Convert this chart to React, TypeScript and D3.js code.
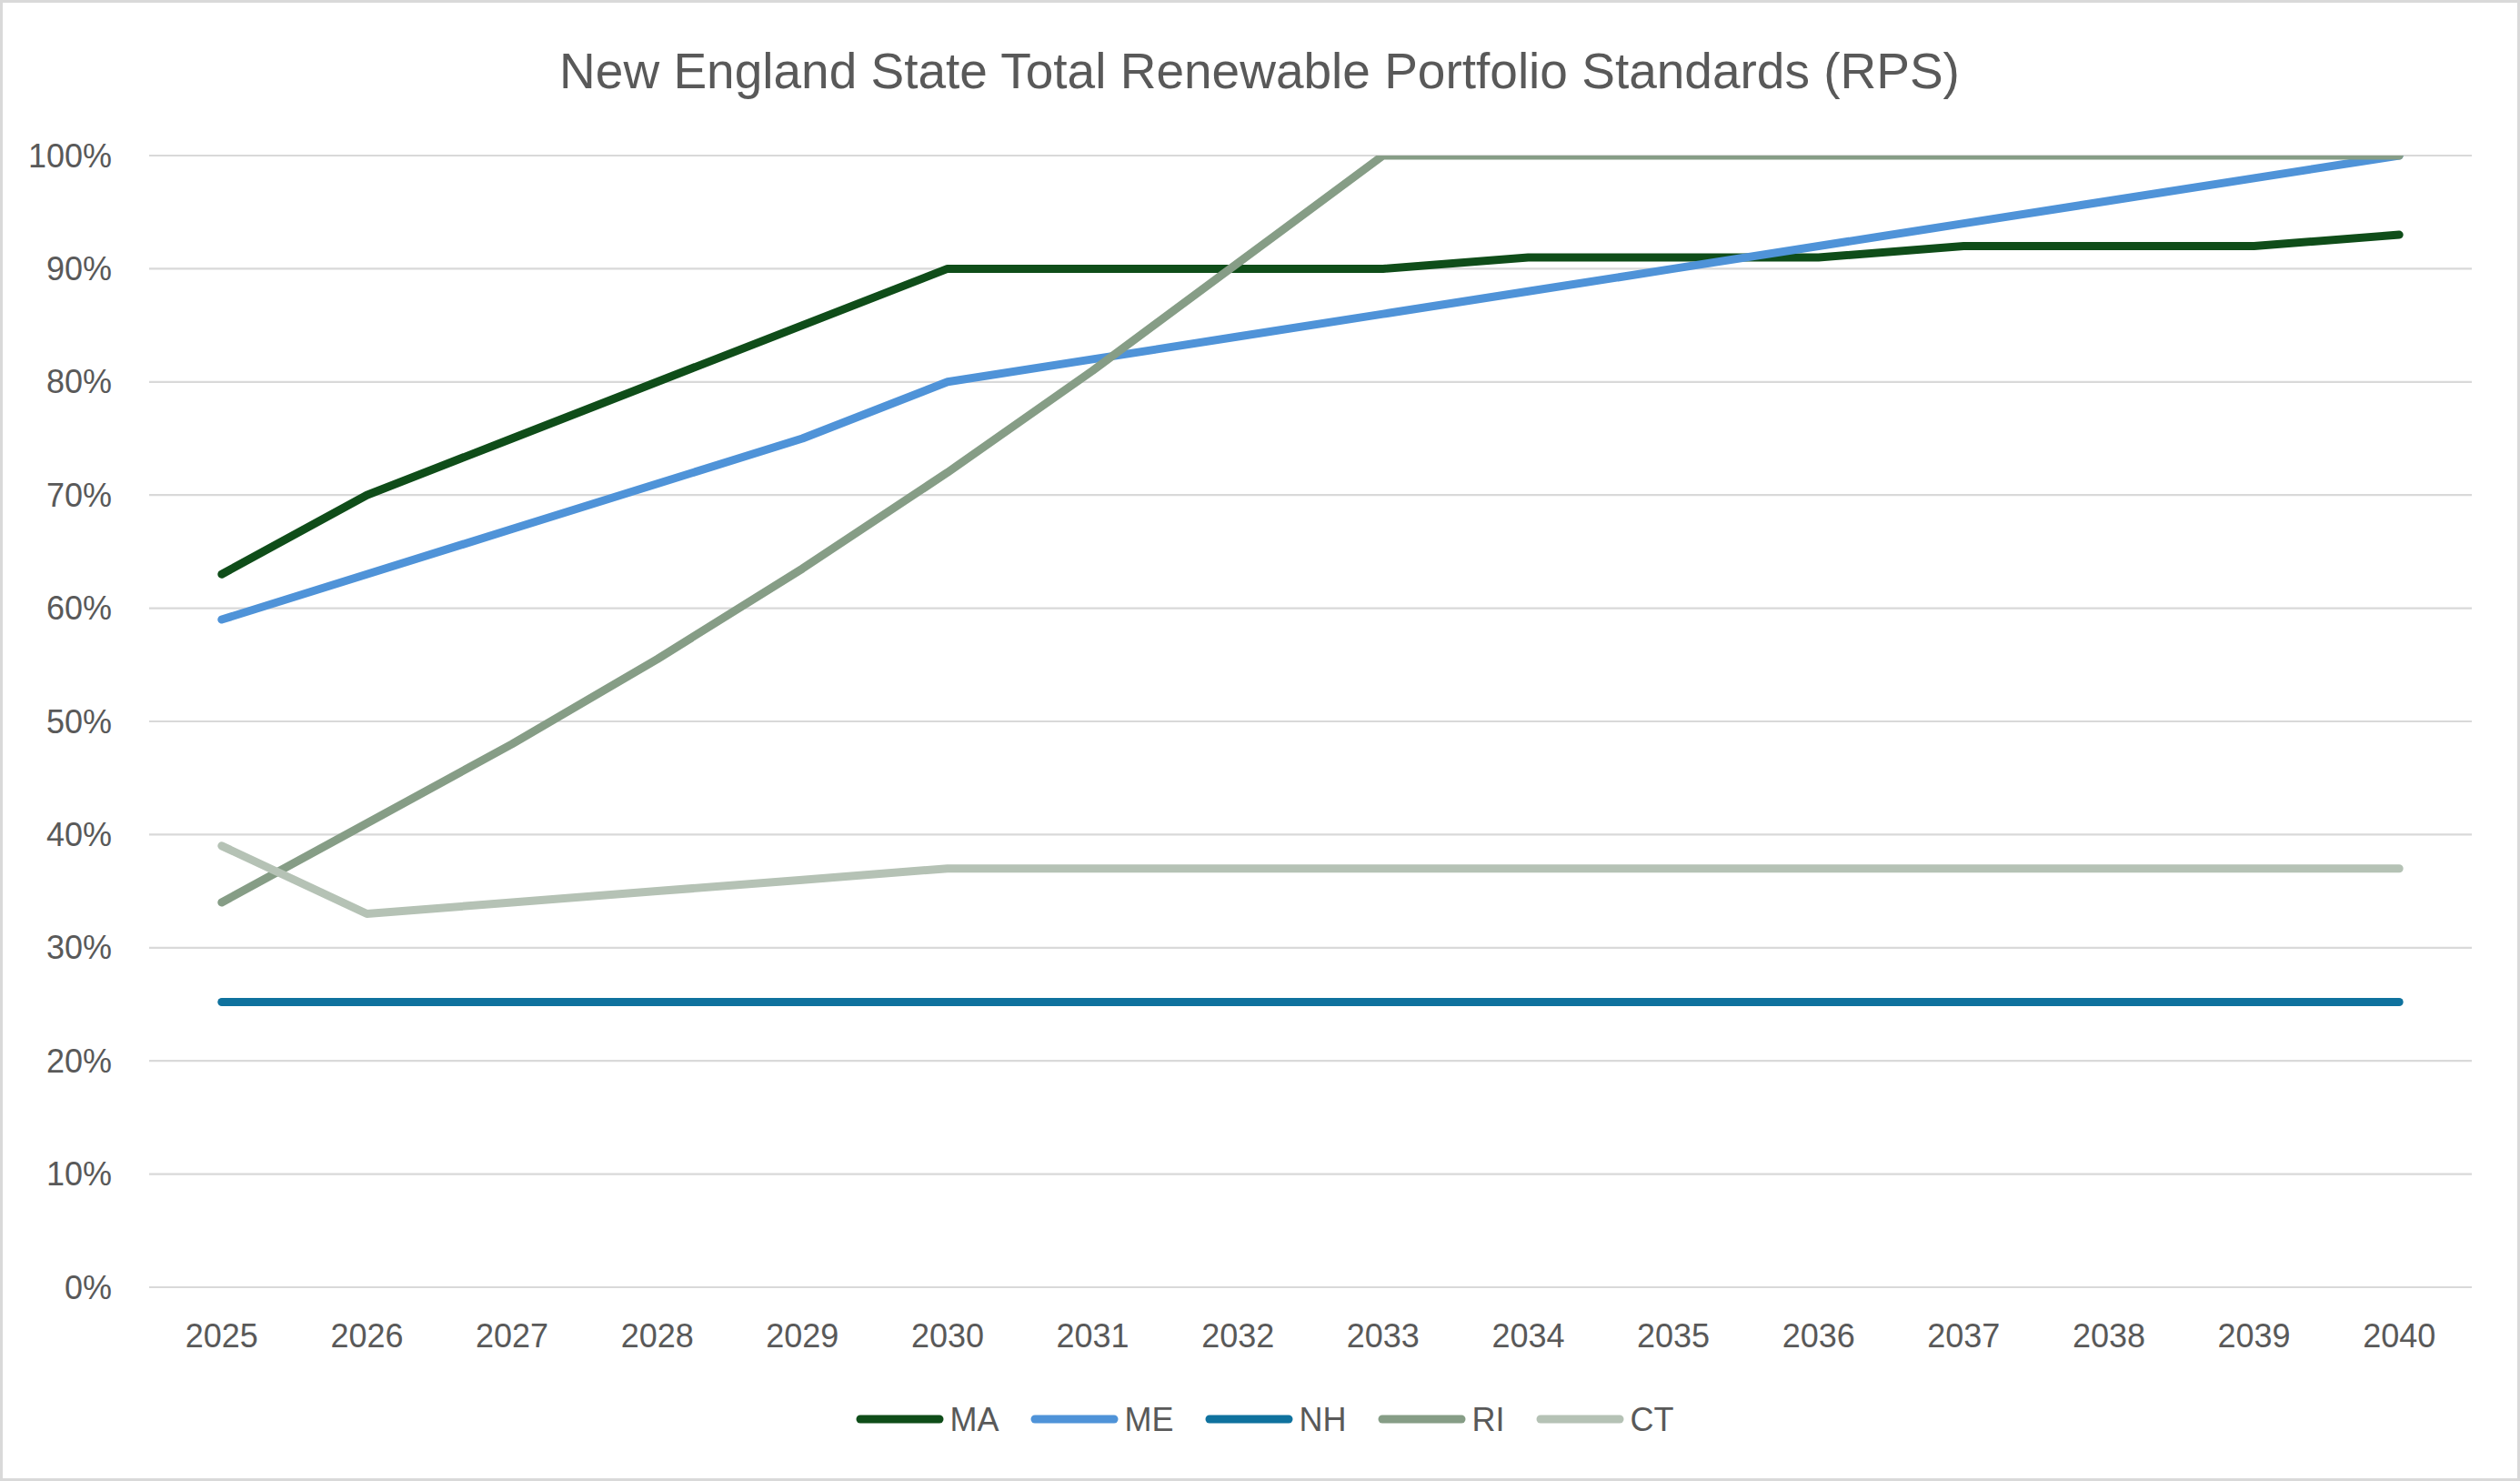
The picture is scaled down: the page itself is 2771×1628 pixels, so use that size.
import React, { useRef, useEffect } from 'react';
import * as d3 from 'd3';

const years = ['2025', '2026', '2027', '2028', '2029', '2030', '2031', '2032', '2033', '2034', '2035', '2036', '2037', '2038', '2039', '2040'];

const maValues = [63, 70, 75, 80, 85, 90, 90, 90, 90, 91, 91, 91, 92, 92, 92, 93];
const meValues = [59, 63, 67, 71, 75, 80, 82, 84, 86, 88, 90, 92, 94, 96, 98, 100];
const nhValues = [25.2, 25.2, 25.2, 25.2, 25.2, 25.2, 25.2, 25.2, 25.2, 25.2, 25.2, 25.2, 25.2, 25.2, 25.2, 25.2];
const riValues = [34, 41, 48, 55.5, 63.5, 72, 81, 90.5, 100, 100, 100, 100, 100, 100, 100, 100];
const ctValues = [39, 33, 34, 35, 36, 37, 37, 37, 37, 37, 37, 37, 37, 37, 37, 37];

const seriesNames = ['MA', 'ME', 'NH', 'RI', 'CT'];
const seriesColors = ['#0f4d19', '#4f93d8', '#0f729e', '#869d86', '#b5c2b5'];
const seriesValues = [maValues, meValues, nhValues, riValues, ctValues];

const yTicks = [0, 10, 20, 30, 40, 50, 60, 70, 80, 90, 100];

const title = 'New England State Total Renewable Portfolio Standards (RPS)';

const width = 2771;
const height = 1628;
const FONT = '"Liberation Sans", Arial, sans-serif';
const TEXT_COLOR = '#595959';

const App: React.FC = () => {
    const svgRef = useRef<SVGSVGElement | null>(null);

    useEffect(() => {
        const svg = d3.select(svgRef.current);
        svg.selectAll('*').remove();

        const plot = { left: 164, right: 2718, top: 171, bottom: 1415 };

        const x = d3.scalePoint<string>().domain(years).range([plot.left, plot.right]).padding(0.5);
        const y = d3.scaleLinear().domain([0, 100]).range([plot.bottom, plot.top]);

        svg.append('rect')
            .attr('x', 0).attr('y', 0)
            .attr('width', width).attr('height', height)
            .attr('fill', '#ffffff');

        // chart border
        svg.append('rect')
            .attr('x', 1.5).attr('y', 1.5)
            .attr('width', width - 3).attr('height', height - 3)
            .attr('fill', 'none')
            .attr('stroke', '#d9d9d9')
            .attr('stroke-width', 3);

        svg.append('text')
            .attr('x', (plot.left + plot.right) / 2 - 56)
            .attr('y', 97)
            .attr('text-anchor', 'middle')
            .style('font-family', FONT)
            .style('font-size', '55px')
            .style('fill', TEXT_COLOR)
            .text(title);

        // gridlines
        svg.append('g')
            .selectAll('line')
            .data(yTicks)
            .enter()
            .append('line')
            .attr('x1', plot.left)
            .attr('x2', plot.right)
            .attr('y1', d => y(d))
            .attr('y2', d => y(d))
            .attr('stroke', '#d9d9d9')
            .attr('stroke-width', 2.2);

        // y axis labels
        svg.append('g')
            .selectAll('text')
            .data(yTicks)
            .enter()
            .append('text')
            .attr('x', 123)
            .attr('y', d => y(d))
            .attr('dy', '0.35em')
            .attr('text-anchor', 'end')
            .style('font-family', FONT)
            .style('font-size', '36px')
            .style('fill', TEXT_COLOR)
            .text(d => `${d}%`);

        // x axis labels
        svg.append('g')
            .selectAll('text')
            .data(years)
            .enter()
            .append('text')
            .attr('x', d => x(d) as number)
            .attr('y', 1481)
            .attr('text-anchor', 'middle')
            .style('font-family', FONT)
            .style('font-size', '36px')
            .style('fill', TEXT_COLOR)
            .text(d => d);

        svg.append('clipPath')
            .attr('id', 'plot-clip')
            .append('rect')
            .attr('x', 0)
            .attr('y', plot.top)
            .attr('width', width)
            .attr('height', height - plot.top);

        const line = d3.line<number>()
            .x((_, i) => x(years[i]) as number)
            .y(d => y(d));

        const lines = svg.append('g').attr('clip-path', 'url(#plot-clip)');
        seriesValues.forEach((values, i) => {
            lines.append('path')
                .datum(values)
                .attr('d', line)
                .attr('fill', 'none')
                .attr('stroke', seriesColors[i])
                .attr('stroke-width', 9)
                .attr('stroke-linejoin', 'round')
                .attr('stroke-linecap', 'round');
        });

        // legend
        const legend = svg.append('g');
        const legendY = 1560;
        const lineLen = 87;
        let cursor = 0;
        seriesNames.forEach((name, i) => {
            const item = legend.append('g').attr('transform', `translate(${cursor},0)`);
            item.append('line')
                .attr('x1', 4.5).attr('x2', 4.5 + lineLen)
                .attr('y1', legendY).attr('y2', legendY)
                .attr('stroke', seriesColors[i])
                .attr('stroke-width', 9)
                .attr('stroke-linecap', 'round');
            const t = item.append('text')
                .attr('x', lineLen + 9 + 7)
                .attr('y', legendY)
                .attr('dy', '0.35em')
                .style('font-family', FONT)
                .style('font-size', '36px')
                .style('fill', TEXT_COLOR)
                .text(name);
            const tw = (t.node() as SVGTextElement).getComputedTextLength();
            cursor += lineLen + 9 + 7 + tw + 35;
        });
        const legendWidth = cursor - 35;
        legend.attr('transform', `translate(${1391 - legendWidth / 2},0)`);
    }, []);

    return (
        <svg
            ref={svgRef}
            width={width}
            height={height}
            style={{ position: 'absolute', left: 0, top: 0, display: 'block' }}
        />
    );
};

export default App;
